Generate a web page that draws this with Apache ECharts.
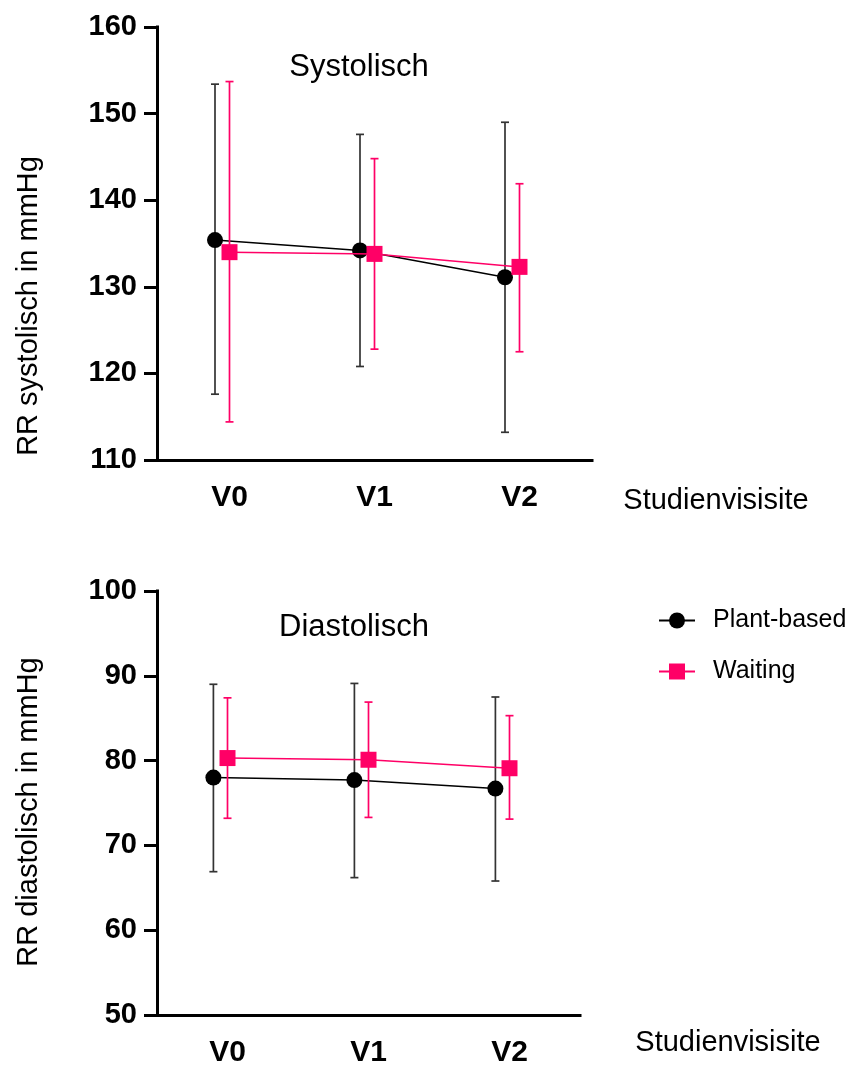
<!DOCTYPE html>
<html>
<head>
<meta charset="utf-8">
<title>RR systolisch / diastolisch</title>
<script src="https://cdn.jsdelivr.net/npm/echarts@6/dist/echarts.min.js"></script>
<style>
  html, body { margin: 0; padding: 0; background: #fff; }
  #chart { width: 849px; height: 1070px; }
</style>
</head>
<body>
<div id="chart"></div>
<script>
// Study visits
const categories = ['V0', 'V1', 'V2'];

// Systolic blood pressure (mmHg): means with lower / upper whisker ends
const sysPlant = [135.4, 134.2, 131.1];
const sysPlantLow = [117.6, 120.8, 113.2];
const sysPlantHigh = [153.4, 147.6, 149.0];
const sysWait = [134.0, 133.8, 132.3];
const sysWaitLow = [114.4, 122.8, 122.5];
const sysWaitHigh = [153.7, 144.8, 141.9];

// Diastolic blood pressure (mmHg)
const diaPlant = [78.0, 77.7, 76.7];
const diaPlantLow = [66.9, 66.2, 65.8];
const diaPlantHigh = [89.0, 89.1, 87.5];
const diaWait = [80.3, 80.1, 79.1];
const diaWaitLow = [73.2, 73.3, 73.1];
const diaWaitHigh = [87.4, 86.9, 85.3];

// Group names
const groupNames = ['Plant-based', 'Waiting'];

const FONT = '"Liberation Sans", Arial, Helvetica, sans-serif';
const BLACK = '#000000';
const BAR_GREY = '#333333';
const PINK = '#ff0066';
// horizontal dodge of the first group, in category units
const DODGE = -0.1;

const chart = echarts.init(document.getElementById('chart'), null, { renderer: 'canvas' });

function points(values, shift) {
  return values.map((v, i) => [i + shift, v]);
}
function bars(low, high, shift) {
  return low.map((l, i) => [i + shift, l, high[i]]);
}

function errorBarRenderer(color) {
  return function (params, api) {
    const x = api.value(0);
    const lo = api.coord([x, api.value(1)]);
    const hi = api.coord([x, api.value(2)]);
    const cap = 4;
    const style = { stroke: color, lineWidth: 1.7 };
    return {
      type: 'group',
      children: [
        { type: 'line', shape: { x1: lo[0], y1: lo[1], x2: hi[0], y2: hi[1] }, style },
        { type: 'line', shape: { x1: hi[0] - cap, y1: hi[1], x2: hi[0] + cap, y2: hi[1] }, style },
        { type: 'line', shape: { x1: lo[0] - cap, y1: lo[1], x2: lo[0] + cap, y2: lo[1] }, style }
      ]
    };
  };
}

function categoryAxis(gridIndex) {
  return {
    type: 'category',
    gridIndex,
    data: categories,
    boundaryGap: true,
    axisLine: { onZero: false, lineStyle: { color: BLACK, width: 3, cap: 'square' } },
    axisTick: { alignWithLabel: true, length: 13, lineStyle: { color: BLACK, width: 3 } },
    axisLabel: { color: BLACK, fontFamily: FONT, fontWeight: 'bold', fontSize: 30, margin: 23 },
    splitLine: { show: false }
  };
}
function hiddenValueAxis(gridIndex) {
  return { type: 'value', gridIndex, min: -0.5, max: 2.5, show: false, axisLine: { onZero: false } };
}
function valueAxis(gridIndex, min, max) {
  return {
    type: 'value',
    gridIndex,
    min, max, interval: 10,
    axisLine: { show: true, onZero: false, lineStyle: { color: BLACK, width: 3, cap: 'square' } },
    axisTick: { show: true, length: 13, lineStyle: { color: BLACK, width: 3 } },
    axisLabel: { color: BLACK, fontFamily: FONT, fontWeight: 'bold', fontSize: 29, margin: 20 },
    splitLine: { show: false }
  };
}

function groupSeries(name, xIdx, yIdx, values, low, high, shift, color, barColor, symbol, size, z) {
  return [
    {
      type: 'custom',
      name: name + ' SD',
      xAxisIndex: xIdx, yAxisIndex: yIdx,
      renderItem: errorBarRenderer(barColor),
      encode: { x: 0, y: [1, 2] },
      data: bars(low, high, shift),
      z: z,
      silent: true
    },
    {
      type: 'line',
      name: name,
      xAxisIndex: xIdx, yAxisIndex: yIdx,
      data: points(values, shift),
      symbol: symbol,
      symbolSize: size,
      itemStyle: { color: color },
      lineStyle: { color: color, width: 1.5 },
      z: z + 1,
      animation: false
    }
  ];
}

const option = {
  animation: false,
  backgroundColor: '#ffffff',
  grid: [
    { left: 157, top: 27, width: 435, height: 433 },
    { left: 157, top: 591, width: 423, height: 424 }
  ],
  xAxis: [categoryAxis(0), hiddenValueAxis(0), categoryAxis(1), hiddenValueAxis(1)],
  yAxis: [valueAxis(0, 110, 160), valueAxis(1, 50, 100)],
  legend: {
    data: groupNames,
    orient: 'vertical',
    left: 653,
    top: 603,
    itemWidth: 36,
    itemHeight: 20,
    itemGap: 26,
    textStyle: { color: BLACK, fontFamily: FONT, fontSize: 25, padding: [0, 0, 0, 13] }
  },
  series: [
    ...groupSeries(groupNames[0], 1, 0, sysPlant, sysPlantLow, sysPlantHigh, DODGE, BLACK, BAR_GREY, 'circle', 16, 2),
    ...groupSeries(groupNames[1], 1, 0, sysWait, sysWaitLow, sysWaitHigh, 0, PINK, PINK, 'rect', 16, 4),
    ...groupSeries(groupNames[0], 3, 1, diaPlant, diaPlantLow, diaPlantHigh, DODGE, BLACK, BAR_GREY, 'circle', 16, 2),
    ...groupSeries(groupNames[1], 3, 1, diaWait, diaWaitLow, diaWaitHigh, 0, PINK, PINK, 'rect', 16, 4)
  ],
  graphic: [
    { type: 'text', x: 359, y: 67, style: { text: 'Systolisch', font: '31px ' + FONT, fill: BLACK, align: 'center', verticalAlign: 'middle', textAlign: 'center', textVerticalAlign: 'middle' } },
    { type: 'text', x: 354, y: 627, style: { text: 'Diastolisch', font: '31px ' + FONT, fill: BLACK, align: 'center', verticalAlign: 'middle', textAlign: 'center', textVerticalAlign: 'middle' } },
    { type: 'text', x: 716, y: 501, style: { text: 'Studienvisisite', font: '29px ' + FONT, fill: BLACK, align: 'center', verticalAlign: 'middle', textAlign: 'center', textVerticalAlign: 'middle' } },
    { type: 'text', x: 728, y: 1043, style: { text: 'Studienvisisite', font: '29px ' + FONT, fill: BLACK, align: 'center', verticalAlign: 'middle', textAlign: 'center', textVerticalAlign: 'middle' } },
    { type: 'text', x: 29, y: 306, rotation: Math.PI / 2, style: { text: 'RR systolisch in mmHg', font: '29px ' + FONT, fill: BLACK, align: 'center', verticalAlign: 'middle', textAlign: 'center', textVerticalAlign: 'middle' } },
    { type: 'text', x: 29, y: 812, rotation: Math.PI / 2, style: { text: 'RR diastolisch in mmHg', font: '29px ' + FONT, fill: BLACK, align: 'center', verticalAlign: 'middle', textAlign: 'center', textVerticalAlign: 'middle' } }
  ]
};

chart.setOption(option);
</script>
</body>
</html>
